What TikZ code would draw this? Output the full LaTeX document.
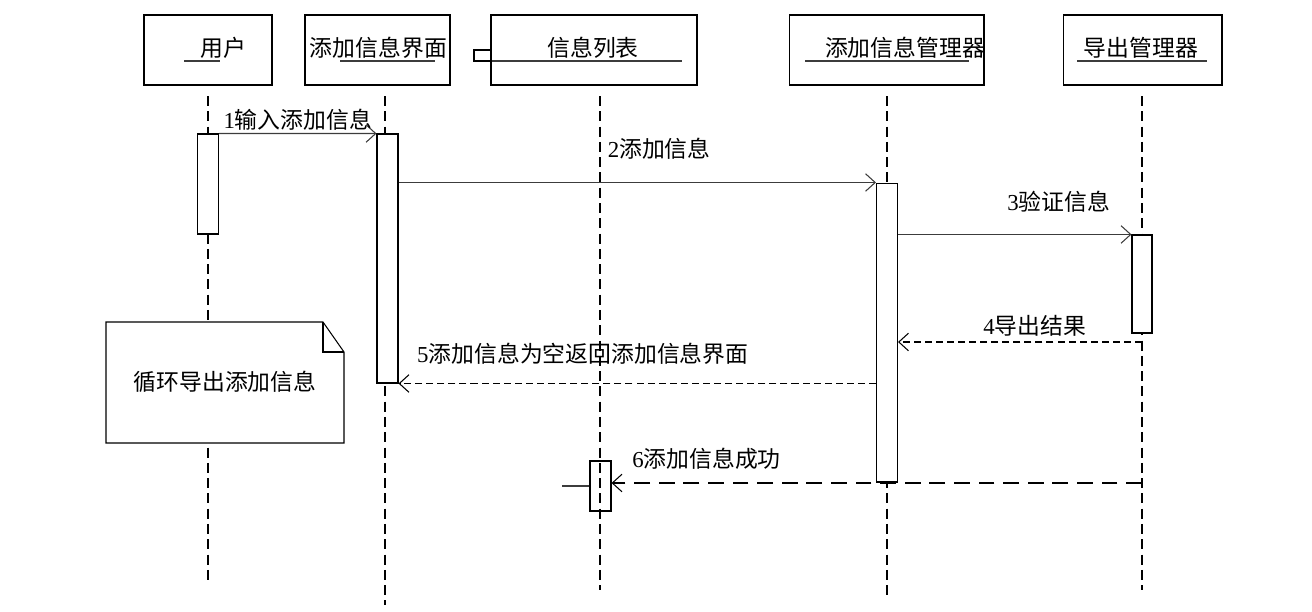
\documentclass[tikz,border=0pt]{standalone}
\usepackage{fontspec}
\setmainfont{Liberation Serif}
\newfontfamily\cjk{Noto Sans CJK SC}
\usetikzlibrary{arrows.meta, math, positioning}
\definecolor{msggray}{RGB}{60,60,60}

\tikzset{
  obj/.style={draw, line width=0.6pt, inner sep=0pt, minimum height=1.4cm},
  act/.style={draw, fill=white, line width=0.6pt, inner sep=0pt},
  title/.style={inner sep=0pt, font=\cjk\fontsize{13pt}{15pt}\selectfont},
  lbl/.style={inner sep=0pt, text=black, font=\fontsize{13pt}{15pt}\selectfont},
  lifeline/.style={line width=1.1pt, dash pattern=on 5.7pt off 3pt},
  msg/.style={line width=0.6pt, msggray, -{Straight Barb[length=5.5pt,width=10pt]}},
  reply/.style={line width=1.1pt, dash pattern=on 4pt off 2.3pt,
    -{Straight Barb[length=5.5pt,width=10pt,line width=0.6pt]}},
  bigreply/.style={reply, line width=1.6pt, dash pattern=on 9pt off 5pt},
}

\begin{document}
\begin{tikzpicture}[x=0.02cm, y=-0.02cm]
\tikzmath{
\aw=0.42;
}
\useasboundingbox (0,0) rectangle (1312,612);

%objects
\node[obj, minimum width=2.56cm] (user) at (208,50) {};
\node[obj, minimum width=2.9cm] (form) at (377.5,50) {};
\node[obj, minimum width=4.12cm] (list) at (594,50) {};
\node[obj, minimum width=3.9cm] (mgr) at (886.5,50) {};
\node[obj, minimum width=3.18cm] (exp) at (1142.5,50) {};

\node[title] (userT) at (223.5,48) {用户};
\node[title] (formT) at (378.5,48) {添加信息界面};
\node[title] (listT) at (593,48) {信息列表};
\node[title] (mgrT) at (905,48) {添加信息管理器};
\node[title] (expT) at (1141,48) {导出管理器};

%underlines and tab
\draw[line width=0.6pt, msggray] (184,61) -- (220,61);
\draw[line width=0.6pt, msggray] (340,61) -- (435,61);
\draw[line width=0.6pt, msggray] (474,61) -- (682,61);
\draw[line width=0.6pt, msggray] (805,61) -- (969,61);
\draw[line width=0.6pt, msggray] (1077,61) -- (1207,61);
\draw[line width=0.6pt] (474,50) rectangle (491,61);

%lifelines
\coordinate (userTop) at (208,96);  \coordinate (userEnd) at (208,580);
\coordinate (formTop) at (385,96);  \coordinate (formEnd) at (385,605);
\coordinate (listTop) at (600,96);  \coordinate (listEnd) at (600,590);
\coordinate (mgrTop) at (887,96);   \coordinate (mgrEnd) at (887,595);
\coordinate (expTop) at (1142,96);  \coordinate (expEnd) at (1142,590);
\draw[lifeline] (userTop) -- (userEnd);
\draw[lifeline] (formTop) -- (formEnd);
\draw[lifeline] (listTop) -- (listEnd);
\draw[lifeline] (mgrTop) -- (mgrEnd);
\draw[lifeline] (expTop) -- (expEnd);

%activations
\node[act, minimum width=\aw cm, minimum height=2cm] (uAct) at (208,184) {};
\node[act, minimum width=\aw cm, minimum height=4.98cm] (fAct) at (387.5,258.5) {};
\node[act, fill=none, minimum width=\aw cm, minimum height=1cm] (lAct) at (600.5,486) {};
\node[act, minimum width=\aw cm, minimum height=5.98cm] (mAct) at (887,332.5) {};
\node[act, minimum width=0.4cm, minimum height=1.96cm] (eAct) at (1142,284) {};
\draw[line width=0.6pt, msggray] (lAct.west) -- ++(-27,0);

%messages
\coordinate (e4) at (1142,342);
\coordinate (e6) at (1142,483);
\draw[msg] (uAct.north east) -- node[lbl, above=0.05cm]{1{\cjk 输入添加信息}} (fAct.north west);
\draw[msg] (fAct.east |- mAct.north) -- node[lbl, pos=0.546, above=0.45cm]{2{\cjk 添加信息}} (mAct.north west);
\draw[msg] (mAct.east |- eAct.north) -- node[lbl, pos=0.688, above=0.43cm]{3{\cjk 验证信息}} (eAct.north west);
\draw[reply] (e4) -- node[lbl, pos=0.44, above=0.09cm]{4{\cjk 导出结果}} (mAct.east |- e4);
\draw[reply] (mAct.west |- fAct.south) -- node[lbl, pos=0.614, above=0.37cm]{5{\cjk 添加信息为空返回添加信息界面}} (fAct.south east);
\draw[bigreply] (e6) -- node[lbl, pos=0.821, above=0.25cm]{6{\cjk 添加信息成功}} (lAct.east |- e6);

%note
\draw[line width=0.6pt, fill=white] (106,322) -- (323,322) -- (344,352) -- (344,443) -- (106,443) -- cycle;
\draw[line width=0.6pt] (323,322) -- (323,352) -- (344,352);
\node[title] (loop) at (225,382) {循环导出添加信息};
\end{tikzpicture}
\end{document}
